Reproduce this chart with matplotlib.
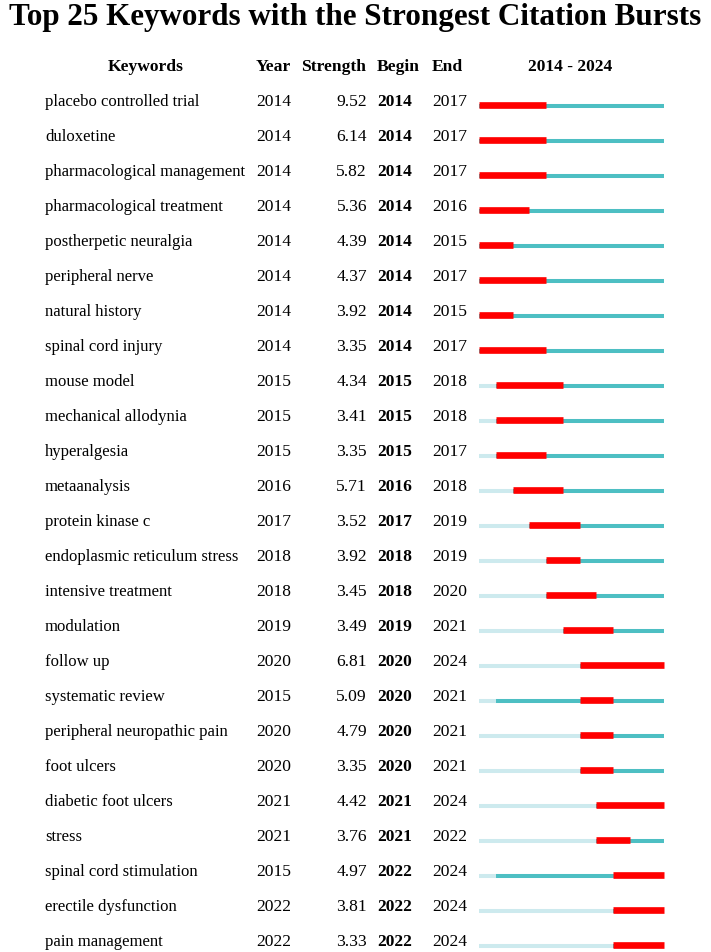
import matplotlib
matplotlib.use("Agg")
import matplotlib.pyplot as plt
from matplotlib.transforms import blended_transform_factory

keywords = ["placebo controlled trial", "duloxetine", "pharmacological management",
            "pharmacological treatment", "postherpetic neuralgia", "peripheral nerve",
            "natural history", "spinal cord injury", "mouse model", "mechanical allodynia",
            "hyperalgesia", "metaanalysis", "protein kinase c", "endoplasmic reticulum stress",
            "intensive treatment", "modulation", "follow up", "systematic review",
            "peripheral neuropathic pain", "foot ulcers", "diabetic foot ulcers", "stress",
            "spinal cord stimulation", "erectile dysfunction", "pain management"]
years = [2014, 2014, 2014, 2014, 2014, 2014, 2014, 2014, 2015, 2015, 2015, 2016, 2017,
         2018, 2018, 2019, 2020, 2015, 2020, 2020, 2021, 2021, 2015, 2022, 2022]
strengths = [9.52, 6.14, 5.82, 5.36, 4.39, 4.37, 3.92, 3.35, 4.34, 3.41, 3.35, 5.71, 3.52,
             3.92, 3.45, 3.49, 6.81, 5.09, 4.79, 3.35, 4.42, 3.76, 4.97, 3.81, 3.33]
begins = [2014, 2014, 2014, 2014, 2014, 2014, 2014, 2014, 2015, 2015, 2015, 2016, 2017,
          2018, 2018, 2019, 2020, 2020, 2020, 2020, 2021, 2021, 2022, 2022, 2022]
ends = [2017, 2017, 2017, 2016, 2015, 2017, 2015, 2017, 2018, 2018, 2017, 2018, 2019,
        2019, 2020, 2021, 2024, 2021, 2021, 2021, 2024, 2022, 2024, 2024, 2024]
start_year, end_year = 2014, 2024
headers = ["Keywords", "Year", "Strength", "Begin", "End", f"{start_year} - {end_year}"]

W, H = 711, 953
fig = plt.figure(figsize=(W / 100, H / 100), dpi=100)
ax = fig.add_axes([0, 0, 1, 1])
ax.set_axis_off()

# map years to pixel positions: 2014 -> 479px, 2025 -> 663.5px
x0_px, x1_px = 479, 663.5
ppy = (x1_px - x0_px) / (end_year + 1 - start_year)
ax.set_xlim(start_year - x0_px / ppy, start_year + (W - x0_px) / ppy)
# rows: row 0 baseline at 106px, spacing 35px
y0_px, dy = 106, 35
ax.set_ylim((H - y0_px) / dy, -y0_px / dy)

light = "#cdeaee"
teal = "#4dbfc3"
red = "#ff0000"
serif = ["Liberation Serif", "DejaVu Serif"]
fs = 12.6
fs_kw = 12.0
tr = blended_transform_factory(ax.transAxes, ax.transData)

def fx(px):
    return px / W

for i, kw in enumerate(keywords):
    y = i
    ax.hlines(y + 0.02, start_year, years[i], colors=light, lw=2.9, zorder=1)
    ax.hlines(y + 0.02, years[i], end_year + 1, colors=teal, lw=2.9, zorder=1)
    ax.hlines(y - 0.01, begins[i], ends[i] + 1, colors=red, lw=4.8, zorder=2)

    ax.text(fx(45), y, kw, transform=tr, ha="left", va="baseline", fontsize=fs_kw, family=serif)
    ax.text(fx(256), y, str(years[i]), transform=tr, ha="left", va="baseline", fontsize=fs, family=serif)
    ax.text(fx(367), y, f"{strengths[i]:.2f}", transform=tr, ha="right", va="baseline", fontsize=fs, family=serif)
    ax.text(fx(377), y, str(begins[i]), transform=tr, ha="left", va="baseline", fontsize=fs,
            family=serif, fontweight="bold")
    ax.text(fx(432), y, str(ends[i]), transform=tr, ha="left", va="baseline", fontsize=fs, family=serif)

hy = -1
hx = [146, 273, 334, 398, 447, 570]
for h, x in zip(headers, hx):
    ax.text(fx(x), hy, h, transform=tr, ha="center", va="baseline", fontsize=fs,
            family=serif, fontweight="bold")

fig.text(0.5, 1 - 25 / H, "Top 25 Keywords with the Strongest Citation Bursts",
         ha="center", va="baseline", fontsize=22.4, family=serif, fontweight="bold")

fig.savefig("out.png", dpi=100, facecolor="white")
